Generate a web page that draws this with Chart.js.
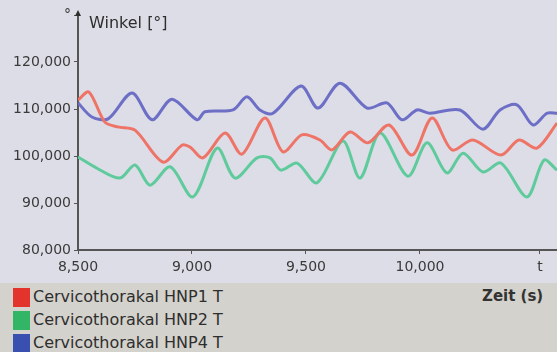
<!DOCTYPE html>
<html>
<head>
<meta charset="utf-8">
<script src="https://cdn.jsdelivr.net/npm/chart.js@4/dist/chart.umd.min.js"></script>
<style>
  html, body { margin: 0; padding: 0; }
  body { width: 557px; height: 352px; overflow: hidden; background: #dcdde6; font-family: "DejaVu Sans", sans-serif; }
  #wrap { width: 557px; height: 283px; }
  #legend { position: relative; width: 557px; height: 69px; background: #d4d2cd; }
  .item { position: absolute; left: 13px; height: 20px; line-height: 20px; font-size: 16px; color: #2e2e2e; white-space: pre; }
  .sw { display: inline-block; width: 17px; height: 19px; vertical-align: middle; margin-right: 3px; }
  #zeit { position: absolute; left: 482px; top: 4px; font-size: 15px; font-weight: bold; color: #333; }
</style>
</head>
<body>
<div id="wrap"><canvas id="chart1" width="557" height="283"></canvas></div>
<div id="legend"><span id="zeit">Zeit (s)</span></div>
<script>
// Achsen
const xTicks = [8.5, 9.0, 9.5, 10.0];
const yTicks = [80, 90, 100, 110, 120];
const tMark = 10.526;   // "t" am Ende der Zeitachse
const yTop = 130;       // "°" oben an der Winkelachse

const labels = ["Cervicothorakal HNP1 T", "Cervicothorakal HNP2 T", "Cervicothorakal HNP4 T"];

// HNP1 (rot)
const t1 = [8.500, 8.548, 8.618, 8.675, 8.750, 8.873, 8.956, 8.991, 9.048, 9.145, 9.219, 9.320, 9.399, 9.482,
  9.561, 9.614, 9.693, 9.772, 9.864, 9.965, 10.053, 10.140, 10.232, 10.355, 10.434, 10.513, 10.601];
const hnp1 = [111.9, 113.6, 107.2, 106.2, 105.5, 98.7, 102.3, 101.9, 99.6, 104.9, 100.4, 108.1, 100.9, 104.5,
  103.4, 101.3, 105.1, 102.8, 106.6, 100.2, 108.1, 101.3, 103.4, 100.2, 103.4, 101.7, 107.0];

// HNP2 (gruen)
const t2 = [8.500, 8.583, 8.684, 8.750, 8.816, 8.904, 9.004, 9.110, 9.189, 9.285, 9.342, 9.390, 9.461, 9.548,
  9.662, 9.737, 9.825, 9.947, 10.031, 10.118, 10.189, 10.276, 10.355, 10.469, 10.544, 10.601];
const hnp2 = [99.8, 97.4, 95.3, 98.1, 93.8, 97.7, 91.3, 101.7, 95.3, 99.6, 99.6, 97.0, 98.5, 94.3,
  103.2, 95.3, 104.9, 95.7, 102.8, 96.4, 100.6, 96.6, 98.5, 91.3, 99.1, 97.0];

// HNP4 (blau)
const t4 = [8.500, 8.561, 8.632, 8.737, 8.825, 8.912, 9.022, 9.057, 9.180, 9.241, 9.298, 9.355, 9.478, 9.553,
  9.649, 9.768, 9.855, 9.921, 9.987, 10.044, 10.175, 10.276, 10.351, 10.425, 10.496, 10.557, 10.601];
const hnp4 = [111.3, 108.3, 107.9, 113.4, 107.7, 112.1, 107.7, 109.4, 109.8, 112.6, 109.8, 109.1, 114.9, 110.2,
  115.5, 110.2, 111.3, 107.7, 109.8, 109.1, 109.8, 105.7, 109.8, 110.9, 106.6, 109.1, 109.1];

const lineColors = ["#ef7468", "#5fcb9c", "#6d6fc6"];
const swatchColors = ["#e3332d", "#33b566", "#3a50b0"];

const pts = (ts, vs) => ts.map((t, i) => ({ x: t, y: vs[i] }));
const fmt = v => v.toFixed(3).replace(".", ",");

// Titel + Pfeil der Winkelachse
const axisText = {
  id: "axisText",
  afterDraw(chart) {
    const { ctx, chartArea } = chart;
    ctx.save();
    ctx.fillStyle = "#2e2e2e";
    ctx.font = '16px "DejaVu Sans"';
    ctx.textBaseline = "middle";
    ctx.fillText("Winkel [°]", chartArea.left + 11, 24);
    ctx.beginPath();
    ctx.moveTo(chartArea.left - 3, chartArea.top + 1);
    ctx.lineTo(chartArea.left, chartArea.top - 5);
    ctx.lineTo(chartArea.left + 3, chartArea.top + 1);
    ctx.closePath();
    ctx.fill();
    ctx.restore();
  }
};

const chart = new Chart(document.getElementById("chart1"), {
  type: "line",
  data: {
    datasets: [
      { label: labels[0], data: pts(t1, hnp1), borderColor: lineColors[0] },
      { label: labels[1], data: pts(t2, hnp2), borderColor: lineColors[1] },
      { label: labels[2], data: pts(t4, hnp4), borderColor: lineColors[2] }
    ]
  },
  options: {
    responsive: false,
    animation: false,
    layout: { padding: { top: 15, right: 0, left: 0, bottom: 0 } },
    elements: {
      line: { borderWidth: 3, tension: 0.3, fill: false },
      point: { radius: 0 }
    },
    plugins: { legend: { display: false }, tooltip: { enabled: false } },
    scales: {
      x: {
        type: "linear",
        min: 8.5,
        max: 10.601,
        afterBuildTicks: s => { s.ticks = [...xTicks, tMark].map(v => ({ value: v })); },
        afterFit: s => { s.height = 33; },
        border: { display: true, color: "#555", width: 2 },
        grid: { display: true, drawOnChartArea: false, drawTicks: true, tickLength: 4, color: "#555" },
        ticks: {
          autoSkip: false, maxRotation: 0, padding: 5, color: "#3a3a3a",
          font: { family: "DejaVu Sans", size: 14 },
          callback: v => (v === tMark ? "t" : fmt(v))
        }
      },
      y: {
        min: 80,
        max: yTop,
        afterBuildTicks: s => { s.ticks = [...yTicks, yTop].map(v => ({ value: v })); },
        afterFit: s => { s.width = 78; },
        border: { display: true, color: "#555", width: 2 },
        grid: { display: true, drawOnChartArea: false, drawTicks: true, tickLength: 4, color: "#555" },
        ticks: {
          padding: 3, color: "#3a3a3a",
          font: { family: "DejaVu Sans", size: 14 },
          callback: v => (v === yTop ? "°" : fmt(v))
        }
      }
    }
  },
  plugins: [axisText]
});

// Legende unten
const legend = document.getElementById("legend");
chart.data.datasets.forEach((ds, i) => {
  const row = document.createElement("div");
  row.className = "item";
  row.style.top = (4 + i * 23) + "px";
  const sw = document.createElement("span");
  sw.className = "sw";
  sw.style.background = swatchColors[i];
  row.appendChild(sw);
  row.appendChild(document.createTextNode(ds.label));
  legend.appendChild(row);
});
</script>
</body>
</html>
